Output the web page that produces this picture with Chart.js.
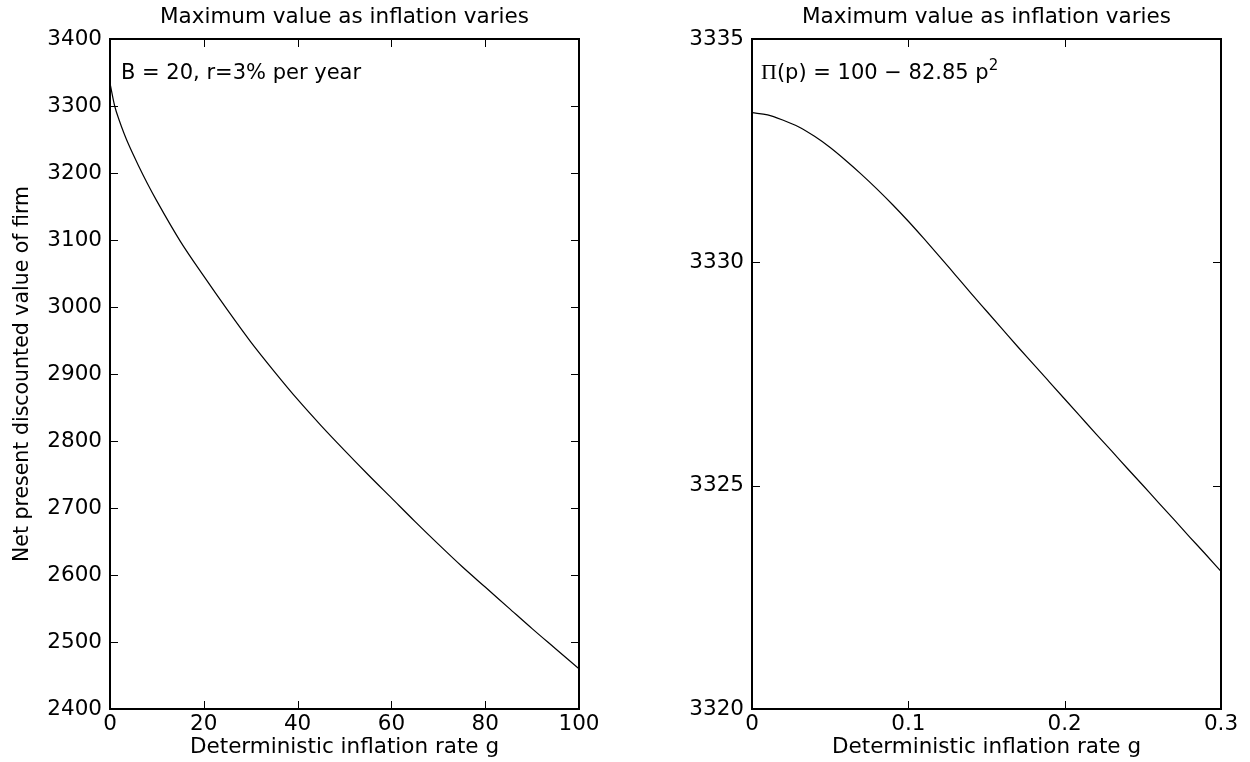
<!DOCTYPE html>
<html>
<head>
<meta charset="utf-8">
<script src="https://cdn.jsdelivr.net/npm/chart.js@4.4.1/dist/chart.umd.min.js"></script>
<style>
  html, body { margin: 0; padding: 0; background: #fff; }
  #wrap { position: relative; width: 1250px; height: 762px; }
  canvas { position: absolute; top: 0; }
</style>
</head>
<body>
<div id="wrap">
  <canvas id="leftChart" width="625" height="762" style="left:0"></canvas>
  <canvas id="rightChart" width="625" height="762" style="left:625px"></canvas>
</div>
<script>
// Left panel: value against inflation rate g (0..100)
const leftRate = [0, 1, 2, 3, 4, 6, 8, 10, 15, 20, 25, 30, 35, 40, 45, 50, 55, 60, 65, 70, 75, 80, 85, 90, 95, 100];
const leftValue = [3334, 3300, 3278, 3259, 3242, 3212, 3184, 3158, 3098, 3046, 2996, 2948, 2904, 2862, 2823, 2786,
                   2750, 2715, 2680, 2646, 2613, 2582, 2551, 2520, 2490, 2460];
const leftXTicks = [0, 20, 40, 60, 80, 100];
const leftYTicks = [2400, 2500, 2600, 2700, 2800, 2900, 3000, 3100, 3200, 3300, 3400];

// Right panel: value against inflation rate g (0..0.3)
const rightRate = [0, 0.01, 0.02, 0.03, 0.04, 0.05, 0.06, 0.07, 0.08, 0.09, 0.10, 0.11, 0.12, 0.13, 0.14, 0.15,
                   0.16, 0.17, 0.18, 0.19, 0.20, 0.21, 0.22, 0.23, 0.24, 0.25, 0.26, 0.27, 0.28, 0.29, 0.30];
const rightValue = [3333.35, 3333.30, 3333.18, 3333.03, 3332.82, 3332.57, 3332.28, 3331.97, 3331.64, 3331.29,
                    3330.92, 3330.53, 3330.13, 3329.72, 3329.31, 3328.91, 3328.51, 3328.11, 3327.72, 3327.33,
                    3326.94, 3326.55, 3326.16, 3325.78, 3325.39, 3325.01, 3324.62, 3324.24, 3323.85, 3323.47, 3323.08];
const rightXTicks = [0, 0.1, 0.2, 0.3];
const rightYTicks = [3320, 3325, 3330, 3335];

const titleText = 'Maximum value as inflation varies';
const xTitle = 'Deterministic inflation rate g';
const yTitle = 'Net present discounted value of firm';

const FONT = '"DejaVu Sans", Verdana, sans-serif';
Chart.defaults.font.family = FONT;
Chart.defaults.font.size = 21.5;
Chart.defaults.color = '#000';

// box, inward ticks on all four sides, title and the note inside the axes
const framePlugin = {
    id: 'frame',
    afterDraw(chart, args, opts) {
        const { ctx, chartArea: a } = chart;
        const x = chart.scales.x, y = chart.scales.y;
        const len = 8;
        ctx.save();
        ctx.strokeStyle = '#000';
        ctx.lineWidth = 1;
        ctx.beginPath();
        x.ticks.forEach(t => {
            const px = Math.round(x.getPixelForValue(t.value)) + 0.5;
            ctx.moveTo(px, a.bottom); ctx.lineTo(px, a.bottom - len);
            ctx.moveTo(px, a.top); ctx.lineTo(px, a.top + len);
        });
        y.ticks.forEach(t => {
            const py = Math.round(y.getPixelForValue(t.value)) + 0.5;
            ctx.moveTo(a.left, py); ctx.lineTo(a.left + len, py);
            ctx.moveTo(a.right, py); ctx.lineTo(a.right - len, py);
        });
        ctx.stroke();
        ctx.lineWidth = 2;
        ctx.strokeRect(a.left, a.top, a.right - a.left, a.bottom - a.top);

        ctx.fillStyle = '#000';
        ctx.font = '21.5px ' + FONT;
        ctx.textAlign = 'center';
        ctx.textBaseline = 'middle';
        ctx.fillText(opts.title, (a.left + a.right) / 2, 17);

        ctx.textAlign = 'left';
        ctx.textBaseline = 'alphabetic';
        let cx = a.left + opts.noteX;
        opts.note.forEach(seg => {
            ctx.font = seg.font || '21px ' + FONT;
            ctx.fillText(seg.text, cx, 79 - (seg.rise || 0));
            cx += ctx.measureText(seg.text).width;
        });
        ctx.restore();
    }
};

function makeChart(id, rates, values, xTicks, yTicks, cfg) {
    const points = rates.map((r, i) => ({ x: r, y: values[i] }));
    return new Chart(document.getElementById(id), {
        type: 'line',
        data: {
            datasets: [{
                data: points,
                borderColor: '#000',
                borderWidth: 1.2,
                pointRadius: 0,
                cubicInterpolationMode: 'monotone',
                fill: false
            }]
        },
        options: {
            responsive: false,
            animation: false,
            layout: { padding: { top: 39, right: cfg.padRight, bottom: 0, left: 0 } },
            scales: {
                x: {
                    type: 'linear',
                    min: xTicks[0],
                    max: xTicks[xTicks.length - 1],
                    afterBuildTicks: s => { s.ticks = xTicks.map(v => ({ value: v })); },
                    afterFit: s => { s.height = 53; },
                    grid: { display: false, drawTicks: false },
                    border: { display: false },
                    ticks: { padding: 3, maxRotation: 0, callback: v => String(Number(v.toFixed(2))) },
                    title: { display: true, text: xTitle, padding: { top: 0, bottom: 2 } }
                },
                y: {
                    type: 'linear',
                    min: yTicks[0],
                    max: yTicks[yTicks.length - 1],
                    afterBuildTicks: s => { s.ticks = yTicks.map(v => ({ value: v })); },
                    afterFit: s => { s.width = cfg.yWidth; },
                    grid: { display: false, drawTicks: false },
                    border: { display: false },
                    ticks: { padding: 8, callback: v => String(v) },
                    title: {
                        display: cfg.showYTitle,
                        text: yTitle,
                        font: { size: 20.5 },
                        padding: { top: 10, bottom: 0 }
                    }
                }
            },
            plugins: {
                legend: { display: false },
                tooltip: { enabled: false },
                frame: { title: titleText, note: cfg.note, noteX: cfg.noteX }
            }
        },
        plugins: [framePlugin]
    });
}

makeChart('leftChart', leftRate, leftValue, leftXTicks, leftYTicks, {
    yWidth: 110, padRight: 46, showYTitle: true, noteX: 11,
    note: [{ text: 'B = 20, r=3% per year' }]
});

makeChart('rightChart', rightRate, rightValue, rightXTicks, rightYTicks, {
    yWidth: 127, padRight: 29, showYTitle: false, noteX: 9,
    note: [
        { text: '\u03A0', font: '22px "Liberation Serif", "DejaVu Serif", serif' },
        { text: '(p) = 100 \u2212 82.85 p' },
        { text: '2', font: '15px ' + FONT, rise: 9 }
    ]
});
</script>
</body>
</html>
